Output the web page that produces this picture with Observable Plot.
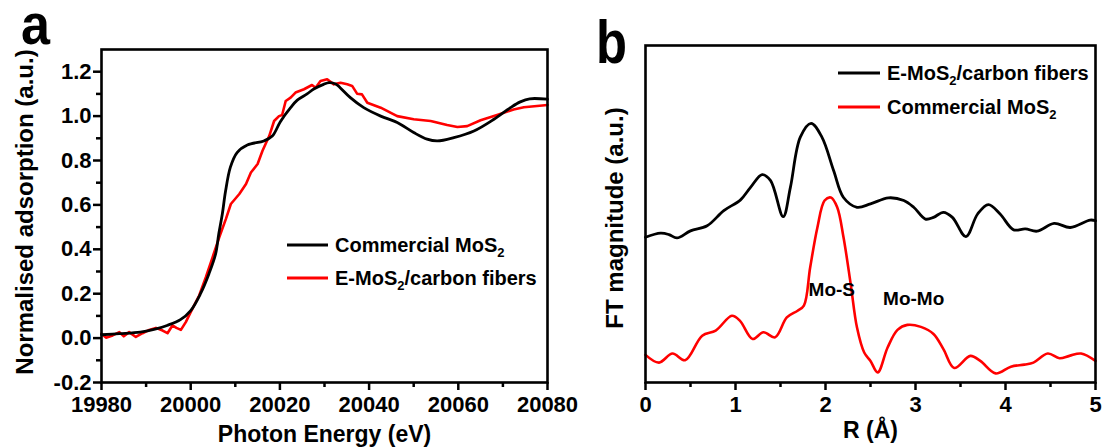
<!DOCTYPE html>
<html><head><meta charset="utf-8">
<script src="https://cdn.jsdelivr.net/npm/d3@7"></script>
<script src="https://cdn.jsdelivr.net/npm/@observablehq/plot@0.6"></script>
<style>
html,body{margin:0;padding:0;background:#fff;}
#wrap{position:relative;width:1102px;height:447px;overflow:hidden;background:#fff;}
#pa,#pb{position:absolute;top:0;}
#pa{left:0;width:560px;}
#pb{left:560px;width:542px;}
#ov{position:absolute;left:0;top:0;pointer-events:none;overflow:visible;}
</style></head><body>
<div id="wrap"><div id="pa"></div><div id="pb"></div><svg id="ov" width="1102" height="447"></svg></div>
<script>
// ---------- Panel a: XANES ----------
const energyBlackA = [19980,19984,19988.7,19992,19994.7,19997.7,20000,20002.2,20004.1,20005.6,20006.3,20007.1,20007.8,20008.9,20010.4,20012.7,20016.4,20018.3,20020.1,20022.4,20023.9,20026.1,20027.6,20029.8,20031,20032.5,20033.5,20035.8,20038.8,20042.6,20046.3,20050,20053,20055.3,20059,20063.5,20068,20071.7,20073.9,20076,20080];
const absBlackA    = [0.015,0.02,0.027,0.04,0.057,0.083,0.124,0.2,0.29,0.38,0.47,0.56,0.66,0.77,0.836,0.87,0.888,0.91,0.975,1.038,1.072,1.1,1.122,1.143,1.151,1.145,1.128,1.083,1.038,1.0,0.971,0.926,0.896,0.888,0.903,0.933,0.986,1.038,1.064,1.078,1.076];
const energyRedA = [19980,19981,19982.5,19984,19985,19986.2,19987.7,19989.2,19990.7,19992.2,19993.7,19994.8,19995.9,19996.8,19997.8,19998.9,20000,20001.9,20003.4,20004.9,20006.4,20007.9,20009,20010.9,20012.4,20013.5,20015,20016.1,20017.6,20018.7,20019.8,20020.5,20021.3,20022.4,20023.5,20025.4,20027.2,20028,20029.1,20030.6,20032.1,20033.6,20035.1,20036.2,20037.3,20038.4,20039.6,20042.6,20046.3,20050,20053.8,20057.5,20059.8,20062,20065,20068.7,20072.4,20074.7,20080];
const absRedA    = [0.02,0.002,0.012,0.027,0.008,0.027,0.005,0.022,0.037,0.046,0.034,0.022,0.057,0.046,0.037,0.072,0.117,0.192,0.274,0.364,0.454,0.537,0.604,0.649,0.694,0.746,0.784,0.844,0.91,0.978,1.0,1.005,1.068,1.083,1.106,1.121,1.14,1.128,1.158,1.166,1.143,1.15,1.143,1.136,1.101,1.098,1.06,1.038,1.0,0.986,0.978,0.96,0.951,0.955,0.981,1.005,1.03,1.04,1.05];
const xMajorA = [19980,20000,20020,20040,20060,20080];
const xMinorA = [19990,20010,20030,20050,20070];
const yMajorA = [-0.2,0,0.2,0.4,0.6,0.8,1.0,1.2];
const yMinorA = [-0.1,0.1,0.3,0.5,0.7,0.9,1.1];
const xLabelA = "Photon Energy (eV)";
const yLabelA = "Normalised adsorption (a.u.)";

// ---------- Panel b: FT-EXAFS ----------
const rBlackB  = [0,0.167,0.26,0.35,0.5,0.685,0.87,1.056,1.167,1.296,1.39,1.53,1.61,1.72,1.84,1.96,2.09,2.2,2.35,2.5,2.7,2.87,2.98,3.11,3.2,3.31,3.41,3.56,3.69,3.81,3.94,4.09,4.22,4.35,4.54,4.72,4.94,5.0];
const ftBlackB = [4.31,4.43,4.39,4.29,4.5,4.65,5.1,5.42,5.79,6.17,5.99,4.92,5.79,7.28,7.69,7.28,6.29,5.49,5.2,5.3,5.48,5.4,5.2,4.85,4.9,5.05,4.9,4.33,5.0,5.28,5.0,4.53,4.56,4.49,4.72,4.6,4.82,4.8];
const rRedB  = [0,0.15,0.3,0.44,0.63,0.78,0.96,1.05,1.19,1.31,1.44,1.57,1.69,1.76,1.83,1.91,1.99,2.06,2.13,2.2,2.28,2.35,2.43,2.5,2.58,2.69,2.8,2.91,3.06,3.2,3.31,3.43,3.61,3.72,3.89,4.06,4.21,4.31,4.47,4.6,4.71,4.84,5.0];
const ftRedB = [0.82,0.59,0.86,0.66,1.39,1.54,1.98,1.83,1.29,1.49,1.34,1.93,2.13,2.28,3.42,4.6,5.4,5.49,5.2,4.31,2.92,1.63,0.89,0.64,0.3,1.04,1.56,1.71,1.65,1.44,0.99,0.43,0.79,0.64,0.27,0.47,0.53,0.59,0.86,0.72,0.79,0.86,0.64];
const xMajorB = [0,1,2,3,4,5];
const xMinorB = [0.5,1.5,2.5,3.5,4.5];
const xLabelB = "R (Å)";
const yLabelB = "FT magnitude (a.u.)";
const peakLabels = ["Mo-S","Mo-Mo"];
const peakR = [2.07,2.98];
const peakV = [2.75,2.49];

const panelLetters = ["a","b"];
const seriesA = ["Commercial MoS", "E-MoS"];
const seriesB = ["E-MoS", "Commercial MoS"];

const FONT = "'Liberation Sans', Arial, Helvetica, sans-serif";
const BLACK = "#000000", RED = "#ff0000";

const blackA = energyBlackA.map((e,i)=>({e, v: absBlackA[i]}));
const redA = energyRedA.map((e,i)=>({e, v: absRedA[i]}));
const blackB = rBlackB.map((r,i)=>({r, v: ftBlackB[i]}));
const redB = rRedB.map((r,i)=>({r, v: ftRedB[i]}));
const peaks = peakLabels.map((t,i)=>({t, r: peakR[i], v: peakV[i]}));

const plotA = Plot.plot({
  width: 560, height: 447,
  marginLeft: 101, marginRight: 13, marginTop: 49, marginBottom: 65,
  style: {fontFamily: FONT, fontWeight: "bold", background: "transparent", overflow: "visible", color: "#000"},
  x: {domain: [19980, 20080]},
  y: {domain: [-0.2, 1.3]},
  marks: [
    Plot.line(redA, {x: "e", y: "v", stroke: RED, strokeWidth: 2.6}),
    Plot.line(blackA, {x: "e", y: "v", stroke: BLACK, strokeWidth: 2.8, curve: "catmull-rom"}),
    Plot.axisX(xMajorA, {tickSize: 8, tickPadding: 6, fontSize: 22, strokeWidth: 2.5, tickFormat: d => String(d), label: null}),
    Plot.axisX(xMinorA, {tickSize: 5, strokeWidth: 2.5, tickFormat: () => "", label: null}),
    Plot.axisY(yMajorA, {tickSize: 8, tickPadding: 2, fontSize: 22, strokeWidth: 2.5, tickFormat: d => d.toFixed(1), label: null}),
    Plot.axisY(yMinorA, {tickSize: 5, strokeWidth: 2.5, tickFormat: () => "", label: null}),
    Plot.frame({stroke: BLACK, strokeWidth: 2.6}),
    Plot.text([xLabelA], {frameAnchor: "bottom", dy: 52, textAnchor: "middle", lineAnchor: "middle", fontSize: 23, fontWeight: "bold", fill: BLACK}),
    Plot.text([yLabelA], {frameAnchor: "left", dx: -76, dy: -4, rotate: -90, textAnchor: "middle", lineAnchor: "middle", fontSize: 24, fontWeight: "bold", fill: BLACK})
  ]
});
document.getElementById("pa").append(plotA);

const plotB = Plot.plot({
  width: 542, height: 447,
  marginLeft: 85, marginRight: 7, marginTop: 45, marginBottom: 65,
  style: {fontFamily: FONT, fontWeight: "bold", background: "transparent", overflow: "visible", color: "#000"},
  x: {domain: [0, 5]},
  y: {domain: [0, 10], axis: null},
  marks: [
    Plot.line(redB, {x: "r", y: "v", stroke: RED, strokeWidth: 2.6, curve: "catmull-rom"}),
    Plot.line(blackB, {x: "r", y: "v", stroke: BLACK, strokeWidth: 2.8, curve: "catmull-rom"}),
    Plot.axisX(xMajorB, {tickSize: 8, tickPadding: 6, fontSize: 22, strokeWidth: 2.5, tickFormat: d => String(d), label: null}),
    Plot.axisX(xMinorB, {tickSize: 5, strokeWidth: 2.5, tickFormat: () => "", label: null}),
    Plot.frame({stroke: BLACK, strokeWidth: 2.6}),
    Plot.text(peaks, {x: "r", y: "v", text: "t", fontSize: 19, fontWeight: "bold", fill: BLACK}),
    Plot.text([xLabelB], {frameAnchor: "bottom", dy: 48, textAnchor: "middle", lineAnchor: "middle", fontSize: 23, fontWeight: "bold", fill: BLACK}),
    Plot.text([yLabelB], {frameAnchor: "left", dx: -30, dy: 4, rotate: -90, textAnchor: "middle", lineAnchor: "middle", fontSize: 24, fontWeight: "bold", fill: BLACK})
  ]
});
document.getElementById("pb").append(plotB);

// ---------- overlay: panel letters and legends ----------
const ov = d3.select("#ov");
ov.append("text").attr("x", 21).attr("y", 44).text(panelLetters[0])
  .attr("font-family", FONT).attr("textLength", 29).attr("lengthAdjust", "spacingAndGlyphs")
  .attr("font-weight", "bold").attr("font-size", 58).attr("fill", BLACK);
ov.append("text").attr("x", 596).attr("y", 63).text(panelLetters[1])
  .attr("font-family", FONT).attr("textLength", 31).attr("lengthAdjust", "spacingAndGlyphs")
  .attr("font-weight", "bold").attr("font-size", 62).attr("fill", BLACK);

function legendItem(x1, x2, y, color, main, tail) {
  ov.append("line").attr("x1", x1).attr("x2", x2).attr("y1", y).attr("y2", y)
    .attr("stroke", color).attr("stroke-width", 2.8);
  const t = ov.append("text").attr("x", x2 + 7).attr("y", y + 7.2)
    .attr("font-family", FONT).attr("font-weight", "bold").attr("font-size", 20).attr("fill", BLACK);
  t.append("tspan").text(main);
  t.append("tspan").attr("font-size", 13).attr("dy", 5).text("2");
  if (tail) t.append("tspan").attr("dy", -5).text(tail);
}
legendItem(287, 328, 245, BLACK, seriesA[0], null);
legendItem(287, 328, 278, RED, seriesA[1], "/carbon fibers");
legendItem(838, 880, 73, BLACK, seriesB[0], "/carbon fibers");
legendItem(838, 880, 107, RED, seriesB[1], null);
</script>
</body></html>
